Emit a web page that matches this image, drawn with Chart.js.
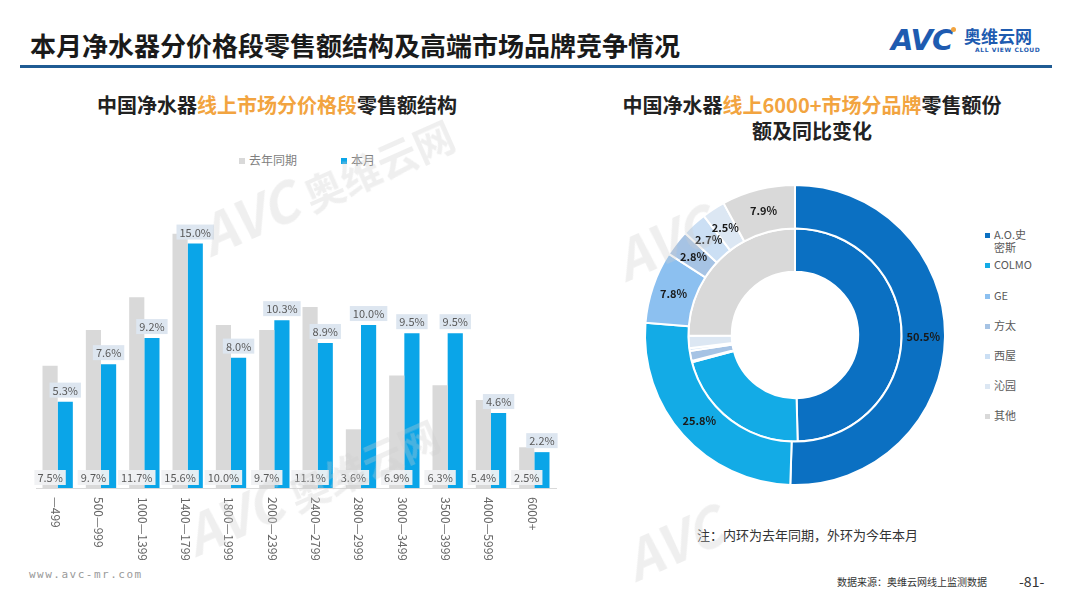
<!DOCTYPE html>
<html>
<head>
<meta charset="utf-8">
<script src="https://cdn.jsdelivr.net/npm/chart.js@4.4.0/dist/chart.umd.min.js"></script>
<style>
  body { margin: 0; width: 1080px; height: 608px; overflow: hidden; background: #fff; position: relative;
         font-family: "Noto Sans CJK SC", "Noto Sans", sans-serif; color: #222; }
  .abs { position: absolute; white-space: nowrap; }
  .hl { color: #f2a440; }
  .wm { position: absolute; color: rgba(205,205,205,0.32); font-weight: bold; font-style: italic;
        transform-origin: left top; pointer-events: none; z-index: 5; white-space: nowrap; }
  .lg i { display: inline-block; width: 5px; height: 5px; margin-right: 4px; vertical-align: middle; position: relative; top: -1px; }
</style>
</head>
<body>

<div class="abs" style="left:30px;top:30px;font-size:26px;line-height:30px;font-weight:bold;color:#1a1a1a;">本月净水器分价格段零售额结构及高端市场品牌竞争情况</div>
<div class="abs" style="left:20px;top:65px;width:1032px;height:3px;background:#1f5b93;"></div>

<!-- logo -->
<div class="abs" style="left:891px;top:24px;font-size:29px;line-height:32px;font-weight:900;font-style:italic;color:#1e5bb0;letter-spacing:-1px;font-family:'DejaVu Sans';">AVC</div>
<div class="abs" style="left:951px;top:27px;width:5px;height:5px;border-radius:50%;background:#f2a440;"></div>
<div class="abs" style="left:964px;top:26px;font-size:17px;line-height:20px;font-weight:bold;color:#1e5bb0;">奥维云网</div>
<div class="abs" style="left:975px;top:46px;font-size:6px;line-height:8px;font-weight:bold;color:#1e5bb0;letter-spacing:0.6px;font-family:'DejaVu Sans';">ALL VIEW CLOUD</div>

<!-- left chart title and legend -->
<div class="abs" style="left:97px;top:93px;font-size:20px;line-height:24px;font-weight:bold;">中国净水器<span class="hl">线上市场分价格段</span>零售额结构</div>
<div class="abs lg" style="left:239px;top:151px;font-size:12px;line-height:18px;color:#7f7f7f;"><i style="background:#d9d9d9;width:6px;height:6px;"></i>去年同期</div>
<div class="abs lg" style="left:341px;top:151px;font-size:12px;line-height:18px;color:#7f7f7f;"><i style="background:#0aa5e8;width:6px;height:6px;"></i>本月</div>

<!-- right chart title -->
<div class="abs" style="left:562px;top:92px;width:500px;text-align:center;font-size:20px;line-height:26px;font-weight:bold;">中国净水器<span class="hl">线上6000+市场分品牌</span>零售额份<br>额及同比变化</div>

<!-- right legend -->
<div class="abs lg" style="left:985px;top:228px;font-size:11px;line-height:13px;color:#595959;"><i style="background:#0b70c2;"></i>A.O.史<br><span style="margin-left:9px;">密斯</span></div>
<div class="abs lg" style="left:985px;top:257px;font-size:11px;line-height:14px;color:#595959;"><i style="background:#13abe6;"></i>COLMO</div>
<div class="abs lg" style="left:985px;top:288px;font-size:11px;line-height:14px;color:#595959;"><i style="background:#8cc0f0;"></i>GE</div>
<div class="abs lg" style="left:985px;top:318px;font-size:11px;line-height:14px;color:#595959;"><i style="background:#a6c3e4;"></i>方太</div>
<div class="abs lg" style="left:985px;top:348px;font-size:11px;line-height:14px;color:#595959;"><i style="background:#cbdff4;"></i>西屋</div>
<div class="abs lg" style="left:985px;top:378px;font-size:11px;line-height:14px;color:#595959;"><i style="background:#dce7f3;"></i>沁园</div>
<div class="abs lg" style="left:985px;top:408px;font-size:11px;line-height:14px;color:#595959;"><i style="background:#d9d9d9;"></i>其他</div>

<div class="abs" style="left:697px;top:526px;font-size:13px;line-height:18px;color:#333;">注：内环为去年同期，外环为今年本月</div>

<!-- footer -->
<div class="abs" style="left:29px;top:568px;font-size:11px;line-height:14px;color:#9a9a9a;letter-spacing:1.5px;font-family:'DejaVu Sans Mono';">www.avc-mr.com</div>
<div class="abs" style="left:837px;top:575px;font-size:10px;line-height:14px;color:#333;">数据来源：奥维云网线上监测数据</div>
<div class="abs" style="left:1019px;top:573px;font-size:14px;line-height:16px;color:#333;">-81-</div>

<canvas id="bar" class="abs" width="532" height="385" style="left:30px;top:175px;"></canvas>
<canvas id="donut" class="abs" width="320" height="320" style="left:635px;top:175px;"></canvas>

<!-- watermarks -->
<div class="wm" style="left:185px;top:200px;font-size:54px;transform:rotate(-24deg);">AVC<span style="font-size:40px;font-style:normal;"> 奥维云网</span></div>
<div class="wm" style="left:600px;top:225px;font-size:54px;transform:rotate(-24deg);">AVC</div>
<div class="wm" style="left:170px;top:500px;font-size:54px;transform:rotate(-24deg);">AVC<span style="font-size:40px;font-style:normal;"> 奥维云网</span></div>
<div class="wm" style="left:610px;top:525px;font-size:54px;transform:rotate(-24deg);">AVC</div>

<script>
const priceBands = ["—499", "500—999", "1000—1399", "1400—1799", "1800—1999", "2000—2399",
                    "2400—2799", "2800—2999", "3000—3499", "3500—3999", "4000—5999", "6000+"];
const lastYearShare = [7.5, 9.7, 11.7, 15.6, 10.0, 9.7, 11.1, 3.6, 6.9, 6.3, 5.4, 2.5];
const thisMonthShare = [5.3, 7.6, 9.2, 15.0, 8.0, 10.3, 8.9, 10.0, 9.5, 9.5, 4.6, 2.2];

const brands = ["A.O.史密斯", "COLMO", "GE", "方太", "西屋", "沁园", "其他"];
const brandThisMonth = [50.5, 25.8, 7.8, 2.8, 2.7, 2.5, 7.9];
const brandLastYear = [49.6, 21.3, 0.2, 1.5, 0.4, 1.9, 25.1];
const brandColors = ["#0b70c2", "#13abe6", "#8cc0f0", "#a6c3e4", "#cbdff4", "#dce7f3", "#d9d9d9"];

// value boxes on the bars + rotated price band labels
const barLabels = {
  id: "barLabels",
  afterDatasetsDraw(chart) {
    const ctx = chart.ctx;
    ctx.save();
    ctx.font = '11px "Noto Sans CJK SC"';
    ctx.textAlign = "center";
    ctx.textBaseline = "middle";
    chart.data.datasets.forEach((ds, di) => {
      chart.getDatasetMeta(di).data.forEach((bar, i) => {
        const txt = ds.data[i].toFixed(1) + "%";
        const w = ctx.measureText(txt).width + 6;
        let cy;
        if (di === 1) {
          cy = bar.y - 11.5;
          ctx.fillStyle = "#dde6f0";
        } else {
          cy = bar.base - 10.5;
          ctx.fillStyle = "rgba(240,241,243,0.95)";
        }
        ctx.fillRect(bar.x - w / 2, cy - 7.5, w, 15);
        ctx.fillStyle = "#595959";
        ctx.fillText(txt, bar.x, cy + 0.5);
      });
    });

    const xs = chart.scales.x;
    ctx.font = '12px "Noto Sans CJK SC"';
    ctx.textAlign = "left";
    ctx.fillStyle = "#666";
    chart.data.labels.forEach((lab, i) => {
      ctx.save();
      ctx.translate(xs.getPixelForValue(i) - 2, chart.chartArea.bottom + 9);
      ctx.rotate(Math.PI / 2);
      ctx.fillText(lab, 0, 0);
      ctx.restore();
    });
    ctx.restore();
  }
};

new Chart(document.getElementById("bar"), {
  type: "bar",
  data: {
    labels: priceBands,
    datasets: [
      { label: "去年同期", data: lastYearShare, backgroundColor: "#d9d9d9" },
      { label: "本月", data: thisMonthShare, backgroundColor: "#0aa5e8" }
    ]
  },
  options: {
    responsive: false,
    animation: false,
    layout: { padding: { left: 6, right: 6, top: 5, bottom: 72 } },
    datasets: { bar: { categoryPercentage: 0.7, barPercentage: 1.0 } },
    plugins: { legend: { display: false }, tooltip: { enabled: false } },
    scales: {
      x: {
        grid: { display: false, drawTicks: false },
        border: { display: true, color: "#d9d9d9" },
        ticks: { display: false }
      },
      y: { display: false, min: 0, max: 18.9 }
    }
  },
  plugins: [barLabels]
});

// percent labels on the outer ring only
const donutLabels = {
  id: "donutLabels",
  afterDatasetsDraw(chart) {
    const ctx = chart.ctx;
    ctx.save();
    ctx.font = 'bold 11px "Noto Sans CJK SC"';
    ctx.textAlign = "center";
    ctx.textBaseline = "middle";
    ctx.fillStyle = "#1a1a1a";
    chart.getDatasetMeta(0).data.forEach((arc, i) => {
      const p = arc.tooltipPosition();
      ctx.fillText(brandThisMonth[i].toFixed(1) + "%", p.x, p.y);
    });
    ctx.restore();
  }
};

new Chart(document.getElementById("donut"), {
  type: "doughnut",
  data: {
    labels: brands,
    datasets: [
      { label: "本月", data: brandThisMonth, backgroundColor: brandColors, borderColor: "#fff", borderWidth: 2 },
      { label: "去年同期", data: brandLastYear, backgroundColor: brandColors, borderColor: "#fff", borderWidth: 2 }
    ]
  },
  options: {
    responsive: false,
    animation: false,
    radius: 150,
    cutout: 67,
    plugins: { legend: { display: false }, tooltip: { enabled: false } }
  },
  plugins: [donutLabels]
});
</script>
</body>
</html>
